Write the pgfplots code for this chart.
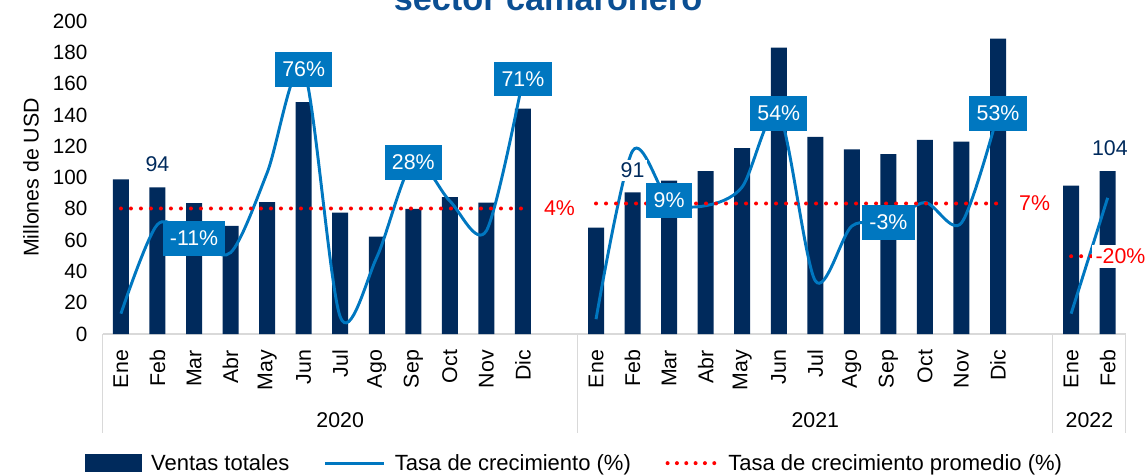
\documentclass[border=0pt]{standalone}
\usepackage{fontspec}
\setmainfont{Liberation Sans}
\usepackage{pgfplots}
\pgfplotsset{compat=1.18}
\usetikzlibrary{calc}
\definecolor{navy}{HTML}{002A5C}
\definecolor{lblue}{HTML}{0077C0}
\definecolor{avgred}{HTML}{FF0000}
\definecolor{titleblue}{HTML}{0B4F93}
\definecolor{sep}{HTML}{D9D9D9}

\begin{document}
\begin{tikzpicture}[font=\fontsize{16}{19}\selectfont]
\begin{axis}[
  scale only axis, width=767.4pt, height=234.75pt,
  xmin=-0.5, xmax=27.5, ymin=0, ymax=200,
  clip=false,
  axis x line*=bottom, axis y line*=left,
  y axis line style={draw=none}, x axis line style={draw=sep, line width=0.8pt},
  major tick length=0pt,
  ytick={0,20,...,200},
  yticklabel style={font=\fontsize{15.5}{18}\selectfont, xshift=-8pt},
  xtick={0,1,2,3,4,5,6,7,8,9,10,11,13,14,15,16,17,18,19,20,21,22,23,24,26,27},
  xticklabels={Ene,Feb,Mar,Abr,May,Jun,Jul,Ago,Sep,Oct,Nov,Dic,
               Ene,Feb,Mar,Abr,May,Jun,Jul,Ago,Sep,Oct,Nov,Dic,Ene,Feb},
  xticklabel style={rotate=90, anchor=east, font=\fontsize{16}{18}\selectfont},
  xticklabel shift=8.5pt,
  /pgf/number format/assume math mode=true,
  ylabel={Millones de USD},
  ylabel style={at={(axis description cs:-0.070,0.5)}, anchor=center},
  legend columns=3,
  legend style={draw=none, fill=none, at={(0.4616,-0.4125)}, anchor=center,
    font=\fontsize{16.5}{19}\selectfont,
    /tikz/every odd column/.append style={column sep=5pt},
    /tikz/every even column/.append style={column sep=24pt}},
  legend cell align=left,
]
\addlegendimage{legend image code/.code={\fill[navy] (0pt,-6.4pt) rectangle (42pt,6.4pt);}}
\addlegendentry{Ventas totales}
\addlegendimage{legend image code/.code={\draw[lblue, line width=2.2pt] (0pt,0pt) -- (44pt,0pt);}}
\addlegendentry{Tasa de crecimiento (\%)}
\addlegendimage{legend image code/.code={\draw[avgred, line width=3pt, line cap=round, dash pattern=on 0pt off 7pt] (0pt,0pt) -- (37pt,0pt);}}
\addlegendentry{Tasa de crecimiento promedio (\%)}

% ventas totales
\addplot[ybar, bar width=12pt, fill=navy, draw=none, forget plot] coordinates {
(0,98.8) (1,93.7) (2,83.6) (3,69.1) (4,84.3) (5,148.2) (6,77.6) (7,62.2) (8,80) (9,87.5) (10,84) (11,144)
(13,68) (14,90.5) (15,98) (16,104) (17,118.7) (18,183) (19,126) (20,118) (21,115) (22,124) (23,123) (24,188.7)
(26,94.8) (27,104)};

% tasa de crecimiento
\addplot[lblue, line width=2.2pt, smooth, forget plot] coordinates {
(0,13) (1,70) (2,61) (3,52) (4,103) (5,169) (6,11) (7,49) (8,110) (9,85) (10,66) (11,163)};
\addplot[lblue, line width=2.2pt, smooth, forget plot] coordinates {
(13,9.5) (14,117) (15,85) (16,82) (17,94) (18,141) (19,34) (20,69) (21,71) (22,84) (23,71) (24,141)};
\addplot[lblue, line width=2.2pt, forget plot] coordinates {(26,13) (27,87)};

% promedio
\addplot[avgred, line width=3pt, line cap=round, dash pattern=on 0pt off 7.5pt, forget plot]
  coordinates {(0,80.2) (11,80.2)};
\addplot[avgred, line width=3pt, line cap=round, dash pattern=on 0pt off 7.5pt, forget plot]
  coordinates {(13,83.4) (24,83.4)};
\addplot[avgred, line width=3pt, line cap=round, dash pattern=on 0pt off 7.5pt, forget plot]
  coordinates {(26,49.7) (27,49.7)};

% etiquetas
\tikzset{gbox/.style={fill=lblue, text=white, inner xsep=5.5pt, minimum height=26pt}}
\node[gbox] at (axis cs:2,61) {-11\%};
\node[gbox] at (axis cs:5,169) {76\%};
\node[gbox] at (axis cs:8,109.6) {28\%};
\node[gbox] at (axis cs:11,163) {71\%};
\node[gbox] at (axis cs:15,85.4) {9\%};
\node[gbox] at (axis cs:18,141) {54\%};
\node[gbox] at (axis cs:21,71.3) {-3\%};
\node[gbox] at (axis cs:24,141) {53\%};

\node[text=navy] at (axis cs:1,108.3) {94};
\node[text=navy, fill=white, inner sep=2pt] at (axis cs:14,104.5) {91};
\node[text=navy] at (axis cs:27.06,118.5) {104};

\node[text=avgred] at (axis cs:12,80.3) {4\%};
\node[text=avgred] at (axis cs:25,83.4) {7\%};
\node[text=avgred, fill=white, inner sep=3pt] at (axis cs:27.35,49.7) {-20\%};

% separadores y años
\draw[sep, line width=0.8pt] (axis cs:-0.5,0) -- ([yshift=-74pt]axis cs:-0.5,0);
\draw[sep, line width=0.8pt] (axis cs:12.5,0) -- ([yshift=-74pt]axis cs:12.5,0);
\draw[sep, line width=0.8pt] (axis cs:25.5,0) -- ([yshift=-74pt]axis cs:25.5,0);
\draw[sep, line width=0.8pt] (axis cs:27.5,0) -- ([yshift=-74pt]axis cs:27.5,0);
\node[yshift=-64.5pt] at (axis cs:6,0) {2020};
\node[yshift=-64.5pt] at (axis cs:19,0) {2021};
\node[yshift=-64.5pt] at (axis cs:26.5,0) {2022};

\coordinate (BL) at (rel axis cs:0,0);
\end{axis}
\node[anchor=base, text=titleblue, font=\bfseries\fontsize{25.7}{30}\selectfont]
  at ($(BL)+(334pt,242.25pt)$) {sector camaronero};
\pgfresetboundingbox
\useasboundingbox ($(BL)+(-77pt,-105pt)$) rectangle ($(BL)+(781.7pt,250.5pt)$);
\end{tikzpicture}
\end{document}
